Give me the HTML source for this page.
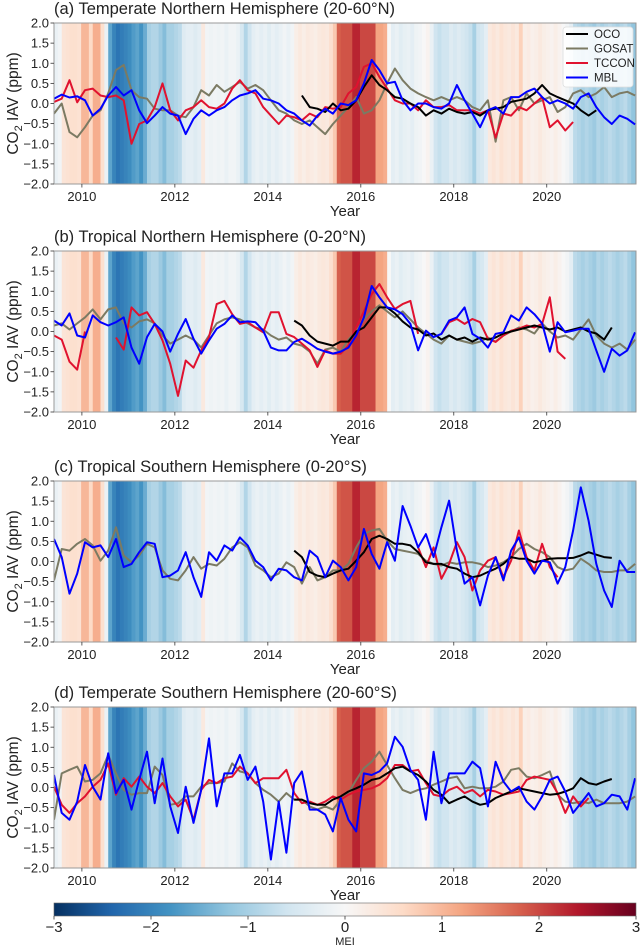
<!DOCTYPE html>
<html><head><meta charset="utf-8"><style>
html,body{margin:0;padding:0;background:#fff;}
svg{display:block;font-family:"Liberation Sans",sans-serif;}
</style></head><body>
<svg id="chart" width="643" height="947" viewBox="0 0 643 947"></svg>
<script>
// ---- data ----
const startYear = 2009.40;
const stepYears = 1/6;
const meiStepYears = 1/12;
const mei = [-0.2,-0.1,0.4,0.45,0.5,0.5,0.45,1.0,1.0,0.6,1.1,1.1,0.5,-0.2,-1.6,-2.0,-2.2,-2.1,-2.0,-1.9,-1.7,-1.6,-1.8,-1.5,-1.0,-0.9,-0.9,-1.1,-1.3,-1.0,-1.0,-0.9,-0.8,-0.4,-0.3,-0.3,-0.4,-0.3,0.3,-0.1,-0.15,-0.1,-0.15,-0.1,-0.2,-0.1,-0.1,-0.2,-0.5,-0.9,-0.6,-0.3,-0.2,-0.3,-0.2,-0.35,-0.2,-0.3,-0.2,-0.1,-0.2,-0.1,0.2,0.3,0.2,0.3,0.25,0.2,0.3,0.35,0.3,0.5,0.8,1.8,1.9,1.9,1.9,2.3,2.3,2.0,2.0,2.0,2.0,1.2,1.2,1.1,0.0,-0.3,-0.2,-0.35,-0.25,-0.2,-0.3,-0.15,-0.1,0.0,0.1,-0.2,-0.6,-0.7,-0.6,-0.6,-0.4,-0.5,-0.4,-0.5,-0.6,-0.7,-1.0,-0.6,-0.5,-0.3,0.3,0.4,0.3,0.45,0.35,0.3,0.4,0.3,0.7,0.2,0.25,0.15,0.2,0.3,0.2,0.15,0.1,0.2,0.1,0.0,-0.1,-0.3,-0.8,-0.9,-1.0,-0.9,-1.0,-1.1,-0.9,-1.0,-0.9,-0.8,-0.9,-1.0,-0.9,-0.8,-1.0,-1.2,-1.3,-1.2];

const panelTitles = ["(a) Temperate Northern Hemisphere (20-60\u00B0N)","(b) Tropical Northern Hemisphere (0-20\u00B0N)","(c) Tropical Southern Hemisphere (0-20\u00B0S)","(d) Temperate Southern Hemisphere (20-60\u00B0S)"];
const yTicks = [2.0,1.5,1.0,0.5,0.0,-0.5,-1.0,-1.5,-2.0];
const xTicks = [2010,2012,2014,2016,2018,2020];
const cbTicks = [-3,-2,-1,0,1,2,3];
const seriesNames = ["OCO","GOSAT","TCCON","MBL"];

// Panel a
const gosatA = [-0.25,0,-0.71,-0.84,-0.59,-0.3,-0.17,0.25,0.83,0.96,0.33,0.16,0.12,-0.13,-0.17,-0.17,-0.3,-0.34,-0.09,0.33,0.2,0.46,0.29,0.41,0.54,0.37,0.46,0.33,0.08,-0.17,-0.25,-0.42,-0.51,-0.42,-0.59,-0.76,-0.51,-0.3,-0.09,0.16,-0.25,-0.17,0.08,0.5,0.87,0.58,0.37,0.25,0.16,0.08,0.16,0.08,0.16,0.08,-0.09,-0.17,0.08,-0.95,0.08,0.16,-0.17,0.25,0,0.08,0.16,-0.21,-0.09,0.25,0.33,0.16,0.25,0.41,0.16,0.25,0.29,0.2];
const tcconA = [0.04,0.12,0.58,0.03,0.33,0.37,0.2,0.16,0.2,0.08,-1.0,-0.51,-0.42,-0.09,0.5,-0.17,-0.42,-0.17,-0.09,0.08,-0.09,-0.13,0,0.37,0.58,0.33,0.25,-0.09,-0.3,-0.51,-0.3,-0.34,-0.42,-0.25,-0.34,-0.09,-0.13,-0.09,0.25,0.41,0.91,1.0,0.66,0.37,0.08,0,0,-0.17,0.08,-0.09,-0.09,-0.04,-0.17,-0.17,-0.17,-0.25,-0.17,-0.85,-0.25,-0.3,-0.09,-0.17,0,0.16,-0.59,-0.42,-0.67,-0.46];
const ocoA = [0.2,-0.09,-0.13,-0.21,0,-0.17,-0.13,0.08,0.41,0.7,0.46,0.33,0.16,0.12,0,-0.09,-0.3,-0.17,-0.25,-0.13,-0.21,-0.25,-0.21,-0.3,-0.17,-0.13,-0.09,0.04,0.08,0.12,0.25,0.46,0.25,0.16,0.08,0,-0.17,-0.3,-0.17];
const mblA = [0.12,0.22,0.15,0.18,0.08,-0.3,-0.13,0.2,0.41,0.2,0.33,-0.17,-0.49,-0.3,-0.09,-0.25,-0.3,-0.76,-0.38,-0.17,-0.3,-0.17,-0.09,0.08,0.2,0.25,0.33,0.12,0.08,0,-0.17,-0.25,-0.42,-0.55,-0.3,-0.13,-0.25,0,-0.04,0.08,0.5,1.08,0.83,0.5,0.54,0.08,-0.17,0,0,-0.09,-0.13,0,0.46,0.08,-0.25,-0.59,-0.17,-0.09,-0.25,0.16,0.16,0.29,0.37,0.16,0,0.08,0,-0.13,0.16,0.25,-0.09,-0.34,-0.51,-0.3,-0.38,-0.52];
// Panel b
const gosatB = [0.15,0.2,0.05,0.2,0.35,0.55,0.3,0.55,0.6,0.2,0.1,0.25,0.3,0.2,-0.1,-0.3,-0.2,-0.1,-0.2,-0.4,-0.1,0.2,0.3,0.35,0.3,0.2,0.1,0.05,-0.1,-0.2,-0.15,-0.3,-0.35,-0.5,-0.8,-0.45,-0.4,-0.5,-0.2,0.0,0.3,0.5,0.65,0.5,0.35,0.5,0.3,0.1,-0.05,-0.2,-0.3,-0.1,-0.2,-0.25,-0.3,-0.25,-0.15,-0.25,-0.1,0.0,0.1,0.05,-0.05,0.2,0.0,-0.15,-0.1,-0.2,0.05,0.3,-0.1,-0.3,-0.4,-0.3,-0.45,-0.2];
const tcconB = [-0.1,-0.2,-0.75,-0.95,0.0,null,null,null,-0.15,-0.45,0.6,0.4,0.48,0.19,-0.22,-0.8,-1.6,-0.72,-0.9,-0.47,-0.14,0.68,0.76,0.43,0.19,0.23,0.1,-0.02,0.48,0.48,-0.06,-0.14,-0.3,-0.47,-0.88,-0.47,-0.55,-0.55,-0.35,0.1,0.5,0.93,1.18,0.85,0.56,0.68,0.76,-0.06,null,null,-0.06,0.23,0.31,0.19,0.31,0.23,-0.18,-0.26,-0.1,0.02,0.07,0.15,0.1,0.19,0.85,-0.5,-0.68];
const ocoB = [0.27,0.15,-0.1,-0.25,-0.3,-0.35,-0.25,-0.25,0.0,0.1,0.35,0.6,0.6,0.45,0.25,0.1,0.05,-0.1,-0.05,-0.2,-0.1,-0.2,-0.15,-0.25,-0.15,-0.2,-0.15,-0.05,0.0,0.05,0.1,0.15,0.1,0.05,0.1,0.0,0.05,0.1,0.0,-0.05,-0.2,0.1];
const mblB = [0.27,0.15,0.45,-0.1,-0.15,0.4,0.23,0.15,0.23,0.35,-0.4,-0.8,-0.14,0.19,0,-0.5,-0.06,0.31,-0.18,-0.55,-0.22,0.07,0.19,0.4,0.23,0.25,0.23,0.02,-0.4,-0.47,-0.47,-0.26,-0.18,-0.3,-0.43,-0.5,-0.55,-0.5,-0.4,-0.1,0.35,1.13,0.85,0.6,0.55,0.43,0.19,-0.47,0.02,-0.14,-0.06,0.27,0.35,0.6,-0.06,-0.18,-0.4,-0.06,-0.02,0.4,0.27,0.6,0.43,0.2,-0.5,0.23,-0.02,0.02,0.07,0.07,-0.47,-1.0,-0.43,-0.6,-0.47,-0.02];
// Panel c
const gosatC = [-0.47,0.31,0.27,0.44,0.56,0.4,0.02,0.27,0.85,0.15,-0.02,0.15,0.44,0.35,-0.22,-0.43,-0.47,-0.22,0.11,-0.18,-0.06,-0.1,0.07,0.35,0.48,0.35,-0.1,-0.22,-0.39,-0.3,-0.02,-0.14,-0.55,-0.14,-0.47,-0.39,-0.22,-0.22,-0.06,0.35,0.68,0.77,0.81,0.52,0.31,0.27,0.23,0.19,0.02,-0.06,-0.1,-0.02,-0.06,-0.02,-0.02,-0.06,-0.14,-0.1,-0.02,0.11,0.31,0.44,0.31,0.23,0.11,-0.14,-0.22,-0.18,0.07,-0.06,-0.22,-0.26,-0.26,-0.22,-0.22,-0.06];
const tcconC = [0.35,-0.14,0.35,-0.43,-0.06,0.48,0.11,-0.72,-0.22,0.02,0.11,-0.39,0.02,0.77,0.11,-0.22,0.44,-0.14,-0.39];
const ocoC = [0.27,0.11,-0.26,-0.35,-0.39,-0.3,-0.22,-0.18,0.02,0.23,0.56,0.64,0.56,0.44,0.44,0.4,0.23,-0.02,-0.06,-0.06,-0.14,-0.18,-0.3,-0.39,-0.35,-0.26,-0.18,-0.06,0.11,0.07,0.07,-0.02,0.02,0.07,0.08,0.08,0.09,0.15,0.23,0.17,0.11,0.09];
const mblC = [0.56,0.11,-0.8,-0.3,0.48,0.35,0.4,0.11,0.56,-0.14,-0.06,0.23,0.48,0.44,-0.39,-0.35,-0.22,0.23,-0.39,-0.88,0.23,0.02,0.4,0.27,0.6,0.4,0.02,-0.14,-0.47,-0.18,-0.22,-0.39,-0.47,0.27,0.11,-0.39,0.02,-0.14,-0.47,-0.14,0.81,0.19,-0.18,0.48,0.02,1.38,0.89,0.35,0.68,0.11,0.85,1.51,0.27,-0.55,-0.39,-1.09,-0.35,0.11,-0.47,0.27,0.6,0.02,-0.3,0.02,-0.02,-0.55,-0.14,0.77,1.84,1.01,-0.06,-0.72,-1.13,0.02,-0.26,-0.26];
// Panel d
const gosatD = [-0.8,0.35,0.44,0.52,0.15,0.19,0.35,0.81,0.35,-0.06,-0.18,-0.14,-0.14,0.52,0.31,-0.43,-0.39,-0.22,-0.22,0.02,0.11,0.11,0.15,0.6,0.4,0.35,0.11,-0.06,-0.18,-0.35,-0.14,-0.3,-0.3,-0.47,-0.55,-0.47,-0.55,-0.3,-0.14,0.19,0.48,0.64,0.89,0.56,0.23,-0.06,-0.14,-0.06,-0.02,0.07,0.15,0.23,0.27,-0.02,0.02,-0.02,-0.02,0.02,0.15,0.44,0.48,0.27,0.23,0.31,0.4,-0.18,-0.35,-0.39,-0.35,-0.39,-0.3,-0.39,-0.39,-0.39,-0.35,-0.22];
const tcconD = [0.02,-0.43,-0.63,-0.39,-0.22,0.02,0.19,0.6,-0.18,0.23,0.02,0.27,0.02,-0.14,0.11,-0.22,-0.47,-0.3,-0.8,-0.06,0.19,0.11,0.23,0.27,0.52,0.35,0.11,0.23,0.23,0.23,0.44,-0.14,-0.39,-0.35,-0.43,-0.35,-0.22,-0.3,-0.18,-0.1,-0.06,-0.02,0.07,0.23,0.56,0.56,0.4,0.44,0.11,-0.18,-0.22,-0.06,0.02,-0.14,-0.06,-0.22,-0.06,-0.1,-0.18,-0.14,-0.1,0.19,0.27,0.23,0.19,-0.14,-0.63,-0.22,-0.47,-0.26];
const ocoD = [-0.3,-0.3,-0.39,-0.43,-0.43,-0.3,-0.22,-0.1,-0.02,0.07,0.19,0.23,0.35,0.48,0.52,0.4,0.31,0.15,-0.06,-0.18,-0.39,-0.3,-0.22,-0.35,-0.43,-0.39,-0.26,-0.18,-0.1,-0.02,-0.06,-0.1,-0.14,-0.18,-0.16,-0.1,-0.02,0.23,0.11,0.07,0.15,0.21];
const mblD = [0.31,-0.63,-0.8,-0.35,0.56,0.02,-0.3,0.85,-0.14,0.19,-0.55,0.19,0.89,-0.39,0.72,-0.47,-1.13,0.02,-0.88,-0.06,1.22,-0.47,0.35,0.35,0.81,0.19,0.52,-0.35,-1.79,-0.35,-1.62,0.11,0.4,-0.55,-0.55,-0.67,-1.09,-0.26,-0.8,-1.09,0.35,0.31,0.4,0.6,1.26,1.01,0.44,0.19,-0.8,0.89,-0.39,0.35,0.35,0.35,0.64,0.48,-0.47,0.64,0.15,-0.1,0.02,-0.35,-0.55,-0.22,0.19,0.27,-0.1,-0.63,-0.39,-0.14,-0.47,-0.39,-0.18,-0.22,-0.55,0.23];

// start offsets (in 2-month steps from startYear)
const gosatStart = 0, tcconStartA = 0, tcconStartB = 0, tcconStartC = 47, tcconStartD = 0, ocoStartA = 32, ocoStartBCD = 31, mblStart = 0;

// ---- layout ----
const NS = "http://www.w3.org/2000/svg";
const svg = document.getElementById('chart');
const X0 = 54, X1 = 636, PH = 161;
const tops = [23, 251, 481, 707];
const T0 = 2009.40, T1 = 2021.92;
function xs(t){ return X0 + (t - T0) / (T1 - T0) * (X1 - X0); }
function ysFor(top){ return v => top + (2 - v) / 4 * PH; }
const anchors = ["#053061","#2166ac","#4393c3","#92c5de","#d1e5f0","#f7f7f7","#fddbc7","#f4a582","#d6604d","#b2182b","#67001f"];
function hex(h){ return [parseInt(h.slice(1,3),16),parseInt(h.slice(3,5),16),parseInt(h.slice(5,7),16)]; }
function cmap(v){
  let p = (Math.max(-3, Math.min(3, v)) + 3) / 0.6;
  let i = Math.min(9, Math.floor(p)), f = p - i;
  const a = hex(anchors[i]), b = hex(anchors[i+1]);
  return 'rgb(' + a.map((c,k)=>Math.round(c + (b[k]-c)*f)).join(',') + ')';
}
function el(tag, attrs, parent){
  const e = document.createElementNS(NS, tag);
  for (const k in attrs) e.setAttribute(k, attrs[k]);
  (parent || svg).appendChild(e);
  return e;
}
const colors = {OCO:"#000000", GOSAT:"#7b7a63", TCCON:"#e0122f", MBL:"#0000ff"};
const panelSeries = [
  [["GOSAT",gosatA,gosatStart],["TCCON",tcconA,tcconStartA],["OCO",ocoA,ocoStartA],["MBL",mblA,mblStart]],
  [["GOSAT",gosatB,gosatStart],["TCCON",tcconB,tcconStartB],["OCO",ocoB,ocoStartBCD],["MBL",mblB,mblStart]],
  [["GOSAT",gosatC,gosatStart],["TCCON",tcconC,tcconStartC],["OCO",ocoC,ocoStartBCD],["MBL",mblC,mblStart]],
  [["GOSAT",gosatD,gosatStart],["TCCON",tcconD,tcconStartD],["OCO",ocoD,ocoStartBCD],["MBL",mblD,mblStart]]
];
const defs = el('defs', {});
tops.forEach((top, p) => {
  const cp = el('clipPath', {id:'clip'+p}, defs);
  el('rect', {x:X0, y:top, width:X1-X0, height:PH}, cp);
});

tops.forEach((top, p) => {
  const ys = ysFor(top);
  const g = el('g', {});
  
  
  const sg = el('g', {'clip-path':'url(#clip'+p+')'}, g);
  
  
  mei.forEach((m, i) => {
    const xa = xs(T0 + i*meiStepYears), xb = xs(T0 + (i+1)*meiStepYears);
    const r = el('rect', {x:xa.toFixed(2), y:top, width:(xb-xa+0.4).toFixed(2), height:PH, fill:cmap(m)}, sg);
    
    
  });
  const lg = el('g', {'clip-path':'url(#clip'+p+')'}, g);
  panelSeries[p].forEach(([name, vals, st]) => {
    let d = '', pen = false;
    vals.forEach((v, i) => {
      if (v === null) { pen = false; return; }
      const x = xs(startYear + (st + i) * stepYears), y = ys(v);
      d += (pen ? 'L' : 'M') + x.toFixed(1) + ',' + y.toFixed(1);
      pen = true;
    });
    const path = el('path', {d:d, fill:'none', stroke:colors[name], 'stroke-width':2, 'stroke-linejoin':'round'}, lg);
    
    
  });
  const frame = el('rect', {x:X0, y:top, width:X1-X0, height:PH, fill:'none', stroke:'#9a9a9a', 'stroke-width':1}, g);
  
  
  yTicks.forEach(v => {
    const y = ys(v);
    el('line', {x1:X0-3.5, x2:X0, y1:y, y2:y, stroke:'#333', 'stroke-width':0.8}, g);
    const t = el('text', {x:X0-5, y:y+4.5, 'text-anchor':'end', 'font-size':13, fill:'#222'}, g);
    t.textContent = v.toFixed(1).replace('-', '\u2212');
    
    
  });
  xTicks.forEach(yr => {
    const x = xs(yr);
    el('line', {x1:x, x2:x, y1:top+PH, y2:top+PH+3.5, stroke:'#333', 'stroke-width':0.8}, g);
    const t = el('text', {x:x, y:top+PH+17, 'text-anchor':'middle', 'font-size':13, fill:'#222'}, g);
    t.textContent = yr;
    
    
  });
  const title = el('text', {x:X0, y:top-9, 'font-size':16.5, fill:'#222'}, g);
  title.textContent = panelTitles[p];
  
  
  const xl = el('text', {x:(X0+X1)/2, y:top+PH+32, 'text-anchor':'middle', 'font-size':15, fill:'#222'}, g);
  xl.textContent = 'Year';
  
  
  const cy = top + PH/2;
  const yl = el('text', {x:0, y:0, 'text-anchor':'middle', 'font-size':15.5, fill:'#222', transform:'translate(18,'+cy+') rotate(-90)'}, g);
  yl.innerHTML = 'CO<tspan font-size="11" dy="4">2</tspan><tspan dy="-4"> IAV (ppm)</tspan>';
  
  
});

// legend in panel a
const leg = el('g', {});


el('rect', {x:563, y:27, width:70, height:60, rx:3, fill:'#fff', 'fill-opacity':0.85, stroke:'#ddd', 'stroke-width':0.8}, leg);
seriesNames.forEach((n, i) => {
  const y = 34 + i*14.5;
  const e = el('g', {}, leg);
  
  
  el('line', {x1:566, x2:588, y1:y, y2:y, stroke:colors[n], 'stroke-width':2}, e);
  const t = el('text', {x:594, y:y+4, 'font-size':11.5, fill:'#222'}, e);
  t.textContent = n;
});

// colorbar
const cb = el('g', {});


const lgd = el('linearGradient', {id:'cbgrad', x1:0, x2:1, y1:0, y2:0}, defs);
anchors.forEach((c, i) => el('stop', {offset:(i/10*100)+'%', 'stop-color':c}, lgd));
el('rect', {x:X0, y:903, width:X1-X0, height:13, fill:'url(#cbgrad)', stroke:'#666', 'stroke-width':0.6}, cb);
cbTicks.forEach(v => {
  const x = X0 + (v + 3) / 6 * (X1 - X0);
  el('line', {x1:x, x2:x, y1:916, y2:919.5, stroke:'#333', 'stroke-width':0.8}, cb);
  const t = el('text', {x:x, y:932, 'text-anchor':'middle', 'font-size':15, fill:'#222'}, cb);
  t.textContent = String(v).replace('-', '\u2212');
  
  
});
const mt = el('text', {x:(X0+X1)/2, y:945, 'text-anchor':'middle', 'font-size':11, fill:'#222'}, cb);
mt.textContent = 'MEI';


</script>
</body></html>
